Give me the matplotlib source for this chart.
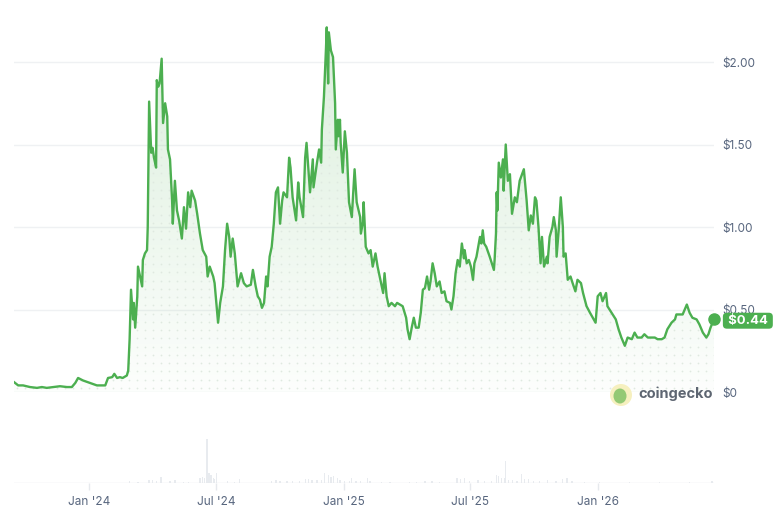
import numpy as np
import pandas as pd
import matplotlib
matplotlib.use('Agg')
import matplotlib.pyplot as plt
import matplotlib.dates as mdates
from matplotlib.patches import Polygon, Ellipse
from matplotlib.colors import to_rgb
from matplotlib.transforms import blended_transform_factory

plt.rcParams['font.family'] = ['Inter', 'DejaVu Sans']

start = pd.Timestamp('2023-09-15')

# price history (days since start, USD)
price_days = [
    0, 6, 13, 23, 33, 40, 47, 56, 66, 76, 83, 88, 92, 99, 109, 119, 126, 131, 135, 141,
    144, 148, 152, 156, 162, 164, 166, 168, 171, 172, 174, 177, 178, 181, 184, 185, 188, 191, 192, 194,
    197, 199, 201, 204, 205, 207, 209, 212, 214, 217, 220, 221, 224, 227, 228, 231, 234, 237, 241, 244,
    247, 250, 253, 255, 260, 263, 267, 271, 276, 278, 281, 286, 288, 293, 296, 300, 303, 306, 309, 311,
    314, 317, 321, 326, 330, 334, 340, 343, 347, 350, 353, 356, 359, 362, 364, 367, 370, 373, 376, 379,
    382, 385, 387, 392, 395, 397, 400, 405, 408, 410, 415, 418, 420, 425, 429, 430, 435, 438, 441, 442,
    445, 448, 449, 451, 452, 455, 458, 461, 462, 465, 466, 468, 469, 472, 475, 478, 481, 485, 489, 492,
    497, 498, 501, 502, 505, 509, 512, 515, 519, 522, 527, 530, 532, 535, 538, 542, 547, 550, 554, 558,
    563, 565, 568, 571, 574, 577, 581, 584, 587, 590, 593, 596, 598, 601, 604, 607, 611, 614, 618, 621,
    626, 628, 631, 634, 637, 640, 643, 646, 647, 650, 653, 656, 659, 661, 664, 669, 671, 673, 675, 678,
    683, 686, 689, 690, 692, 693, 694, 696, 699, 702, 703, 706, 709, 712, 715, 719, 722, 726, 732, 736,
    739, 742, 745, 748, 750, 753, 756, 758, 761, 765, 766, 769, 773, 775, 778, 779, 782, 785, 788, 789,
    792, 795, 799, 802, 806, 809, 814, 817, 822, 827, 835, 838, 842, 845, 850, 852, 858, 864, 868, 872,
    877, 881, 887, 891, 895, 901, 905, 910, 916, 920, 924, 930, 934, 938, 944, 949, 951, 956, 960, 966,
    970, 974, 980, 984, 989, 994, 997, 1000, 1005,
]
price_usd = [
    0.06, 0.04, 0.04, 0.03, 0.025, 0.03, 0.025, 0.03, 0.035, 0.03, 0.03, 0.055, 0.085, 0.07, 0.055, 0.04, 0.04, 0.04, 0.085, 0.09,
    0.11, 0.085, 0.09, 0.085, 0.10, 0.13, 0.32, 0.62, 0.44, 0.54, 0.39, 0.58, 0.76, 0.70, 0.64, 0.80, 0.84, 0.86, 1.00, 1.76,
    1.45, 1.48, 1.42, 1.36, 1.89, 1.85, 1.87, 2.02, 1.63, 1.75, 1.67, 1.47, 1.41, 1.16, 1.02, 1.28, 1.10, 1.04, 0.93, 1.12,
    0.99, 1.21, 1.12, 1.22, 1.16, 1.08, 0.96, 0.86, 0.82, 0.70, 0.76, 0.70, 0.66, 0.42, 0.54, 0.64, 0.86, 1.02, 0.94, 0.82,
    0.93, 0.84, 0.64, 0.72, 0.66, 0.64, 0.65, 0.74, 0.64, 0.58, 0.56, 0.51, 0.54, 0.70, 0.64, 0.82, 0.88, 1.02, 1.21, 1.24,
    1.02, 1.16, 1.21, 1.18, 1.42, 1.36, 1.18, 1.04, 1.27, 1.18, 1.06, 1.42, 1.51, 1.21, 1.41, 1.24, 1.39, 1.47, 1.39, 1.59,
    1.79, 2.09, 2.21, 1.87, 2.18, 2.07, 2.03, 1.75, 1.47, 1.65, 1.55, 1.65, 1.51, 1.33, 1.58, 1.45, 1.15, 1.06, 1.35, 1.15,
    1.06, 0.96, 1.03, 1.15, 0.88, 0.84, 0.86, 0.76, 0.84, 0.76, 0.66, 0.60, 0.72, 0.58, 0.52, 0.54, 0.52, 0.54, 0.53, 0.52,
    0.45, 0.38, 0.32, 0.39, 0.45, 0.39, 0.39, 0.48, 0.62, 0.63, 0.70, 0.62, 0.67, 0.78, 0.72, 0.64, 0.67, 0.60, 0.61, 0.55,
    0.54, 0.50, 0.58, 0.72, 0.80, 0.76, 0.90, 0.81, 0.86, 0.78, 0.80, 0.76, 0.68, 0.78, 0.82, 0.94, 0.90, 0.98, 0.90, 0.88,
    0.82, 0.78, 0.74, 0.80, 0.96, 1.21, 1.10, 1.39, 1.30, 1.41, 1.22, 1.50, 1.28, 1.32, 1.08, 1.18, 1.15, 1.28, 1.35, 1.16,
    0.98, 1.07, 1.02, 1.18, 1.16, 1.00, 0.78, 0.94, 0.76, 0.82, 0.78, 0.94, 1.00, 1.06, 0.98, 0.82, 0.98, 1.18, 1.00, 0.82,
    0.84, 0.68, 0.70, 0.66, 0.61, 0.68, 0.66, 0.60, 0.52, 0.48, 0.42, 0.58, 0.60, 0.55, 0.60, 0.52, 0.48, 0.44, 0.38, 0.33,
    0.28, 0.33, 0.32, 0.36, 0.33, 0.33, 0.35, 0.33, 0.33, 0.33, 0.32, 0.32, 0.33, 0.38, 0.42, 0.44, 0.47, 0.47, 0.47, 0.53,
    0.48, 0.45, 0.44, 0.41, 0.36, 0.33, 0.35, 0.39, 0.44,
]

# trading volume (days since start, $M)
vol_days = [
    166, 178, 194, 199, 205, 211, 224, 231, 243, 250, 267, 271, 274, 277, 280, 283, 286, 288, 291, 307,
    317, 324, 370, 376, 382, 392, 400, 410, 418, 423, 428, 435, 442, 446, 451, 455, 459, 464, 468, 475,
    482, 485, 491, 498, 507, 511, 528, 540, 568, 578, 590, 600, 611, 636, 641, 647, 654, 666, 676, 686,
    693, 696, 700, 705, 706, 710, 716, 722, 729, 733, 739, 746, 755, 766, 778, 788, 794, 801, 819, 841,
    884, 927, 970, 1002,
]
vol_musd = [
    20, 10, 30, 30, 20, 60, 20, 30, 10, 10, 50, 60, 50, 440, 100, 80, 50, 40, 100, 20,
    10, 40, 20, 30, 20, 20, 20, 20, 40, 40, 30, 30, 30, 100, 80, 60, 70, 50, 30, 20,
    20, 50, 20, 20, 50, 20, 10, 10, 10, 10, 20, 20, 10, 50, 40, 50, 20, 30, 20, 20,
    80, 70, 50, 50, 220, 30, 30, 20, 90, 40, 40, 20, 20, 30, 20, 40, 50, 20, 10, 10,
    10, 10, 10, 20,
]

tick_dates = ['2024-01-01', '2024-07-01', '2025-01-01', '2025-07-01', '2026-01-01']
tick_labels = ["Jan '24", "Jul '24", "Jan '25", "Jul '25", "Jan '26"]
y_ticks = [0, 0.5, 1.0, 1.5, 2.0]
y_labels = ['$0', '$0.50', '$1.00', '$1.50', '$2.00']
last_price = 0.44

green = '#4caf50'
text_grey = '#58667e'
grid_grey = '#eff1f3'

dates = start + pd.to_timedelta(price_days, unit='D')
vdates = start + pd.to_timedelta(vol_days, unit='D')
xnum = mdates.date2num(dates)

W, H = 776, 511
fig = plt.figure(figsize=(W / 100, H / 100), dpi=100)
ax = fig.add_axes([14 / W, (H - 392) / H, 700 / W, 2.3 * 165 / H])
axv = fig.add_axes([14 / W, (H - 483) / H, 700 / W, 80 / H])

# gradient fill under the line
verts = [(xnum[0], 0)] + list(zip(xnum, price_usd)) + [(xnum[-1], 0)]
poly = Polygon(verts, closed=True, facecolor='none', edgecolor='none')
ax.add_patch(poly)
grad = np.zeros((256, 1, 4))
grad[..., :3] = to_rgb(green)
grad[..., 3] = np.linspace(0.21, 0.015, 256)[:, None]
im = ax.imshow(grad, aspect='auto', extent=[xnum[0], xnum[-1], 0, 2.3],
               origin='upper', zorder=1, interpolation='bilinear')
im.set_clip_path(poly)

# dotted texture
gx, gy = np.meshgrid(np.arange(xnum[0] + 4, xnum[-1], 11.5), np.arange(0.025, 2.3, 0.05))
dots = ax.scatter(gx.ravel(), gy.ravel(), s=1.6, color='#dfe9e0', lw=0, zorder=1.5)
dots.set_clip_path(poly)

ax.plot(dates, price_usd, color=green, lw=1.7, zorder=3, solid_joinstyle='round')
ax.plot(dates[-1], last_price, 'o', ms=8, color=green, zorder=4, clip_on=False)

ax.set_xlim(xnum[0], xnum[-1])
ax.set_ylim(0, 2.3)
ax.set_yticks(y_ticks)
ax.set_yticklabels(y_labels)
ax.yaxis.tick_right()
ax.tick_params(axis='y', length=0, pad=6, labelcolor=text_grey, labelsize=8.5)
ax.tick_params(axis='x', bottom=False, labelbottom=False)
ax.grid(axis='y', color=grid_grey, lw=1)
ax.set_axisbelow(True)
for s in ax.spines.values():
    s.set_visible(False)

# current price tag (covers the $0.50 label, as in the original)
trans = blended_transform_factory(ax.transAxes, ax.transData)
ax.text(1.0155, last_price - 0.008, ' $0.44 ', transform=trans, ha='left', va='center',
        color='white', fontsize=9.5, fontweight='bold', zorder=10, clip_on=False,
        bbox=dict(boxstyle='round,pad=0.15,rounding_size=0.3', fc=green, ec='none'))

# volume
axv.bar(vdates, vol_musd, width=1.8, color='#e8ebef', zorder=2)
axv.set_xlim(xnum[0], xnum[-1])
axv.set_ylim(0, 800)
axv.set_yticks([])
for s in axv.spines.values():
    s.set_visible(False)
axv.axhline(0, color='#e6e9ed', lw=1, zorder=3)
axv.set_xticks(pd.to_datetime(tick_dates))
axv.set_xticklabels(tick_labels)
axv.tick_params(axis='x', length=5, width=1, color='#e6e9ed', labelcolor=text_grey,
                labelsize=8.5, pad=4)
axv.patch.set_alpha(0)

# coingecko watermark
fig.patches.append(Ellipse((621 / W, 1 - 395 / H), 22 / W, 22 / H, transform=fig.transFigure,
                           fc='#f6f0bf', ec='none', zorder=5))
fig.patches.append(Ellipse((620 / W, 1 - 396 / H), 13 / W, 15 / H, transform=fig.transFigure,
                           fc='#93c974', ec='none', zorder=6))
fig.text(638 / W, 1 - 394 / H, 'coingecko', ha='left', va='center', fontsize=10.5,
         fontweight='bold', color='#5e6672', zorder=7)

fig.savefig('out.png', dpi=100, facecolor='white')
